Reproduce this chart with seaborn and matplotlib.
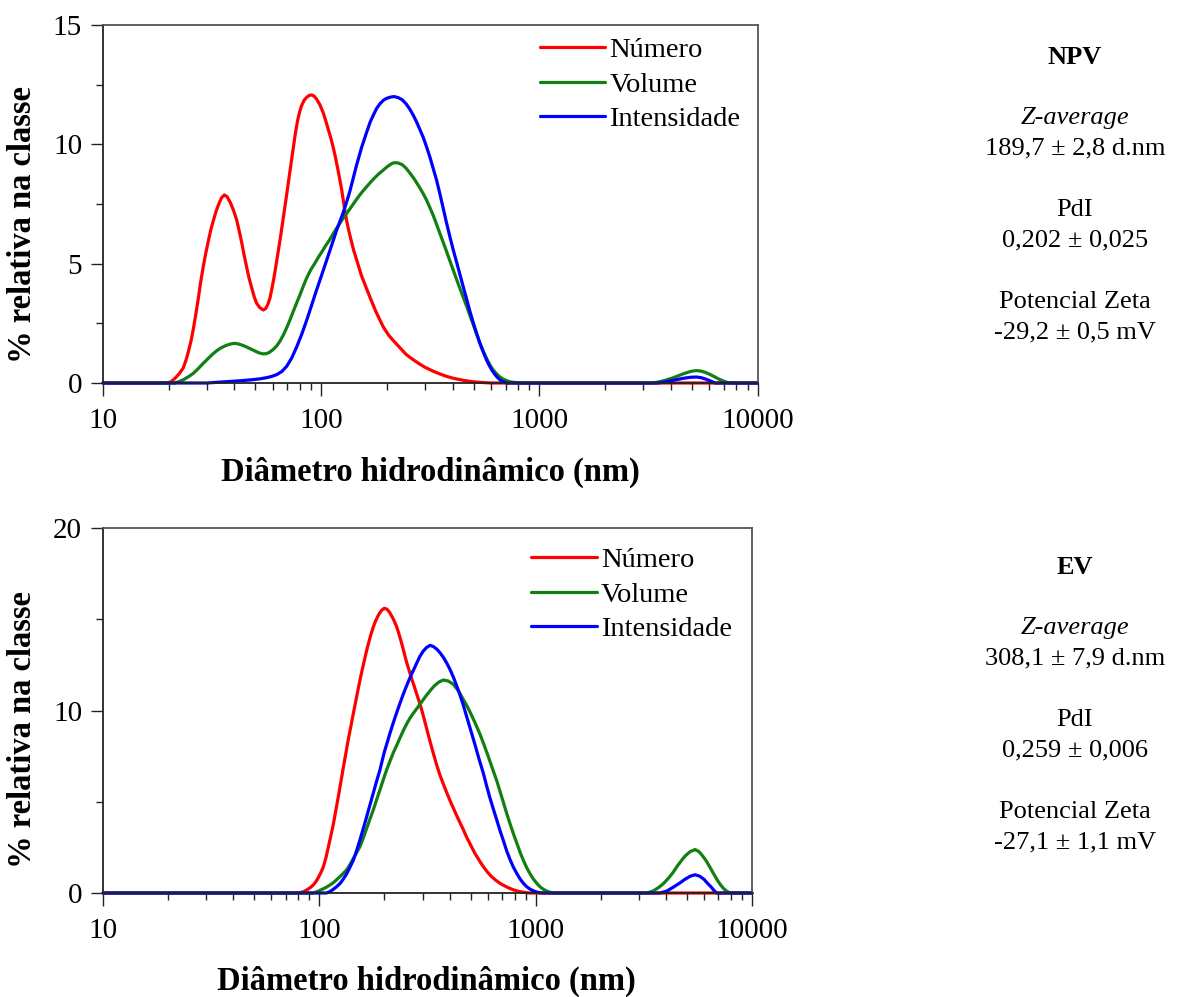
import matplotlib
matplotlib.use("Agg")
import matplotlib.pyplot as plt
import matplotlib.ticker as mticker
import seaborn as sns

# ---- NPV: size distributions (diameter in nm, % per class) ----
npv_num_d = [10, 19.5, 20.5, 21.4, 22.3, 23.3, 24.0, 24.6, 25.3, 25.9, 26.6, 27.3, 28.0, 28.8,
             29.6, 30.4, 31.2, 32.1, 33.0, 34.0, 35.0, 36.0, 37.1, 38.4, 39.7, 41.0, 42.1, 43.2,
             44.3, 45.5, 46.7, 48.0, 49.3, 50.6, 52.4, 54.3, 55.7, 57.0, 58.2, 59.3, 60.6, 62.0,
             63.4, 64.8, 67.0, 69.5, 72.0, 74.5, 76.3, 78.0, 79.6, 81.3, 83.6, 86.0, 88.2, 90.4,
             92.8, 95.5, 98.8, 102.4, 105, 108, 110.8, 113.7, 116.3, 119, 121.6, 124.2, 127.3,
             130.5, 133.7, 137, 141, 145.5, 153, 161.5, 169.5, 178, 185, 192.6, 204, 214, 230,
             245, 260, 280, 299, 325, 350, 375, 403, 450, 498, 550, 600, 10000]
npv_num_v = [0, 0, 0.05, 0.2, 0.38, 0.62, 0.95, 1.3, 1.75, 2.22, 2.85, 3.5, 4.2, 4.87,
             5.45, 5.95, 6.42, 6.83, 7.2, 7.52, 7.77, 7.88, 7.8, 7.55, 7.22, 6.83, 6.37, 5.9,
             5.38, 4.87, 4.4, 4.0, 3.62, 3.34, 3.15, 3.06, 3.12, 3.3, 3.55, 3.9, 4.35, 4.9,
             5.45, 6.0, 6.9, 7.9, 8.9, 9.85, 10.5, 11.0, 11.35, 11.62, 11.85, 11.98, 12.05, 12.07,
             12.02, 11.88, 11.65, 11.3, 10.98, 10.6, 10.25, 9.85, 9.45, 9.0, 8.55, 8.09, 7.45,
             6.85, 6.4, 6.0, 5.55, 5.15, 4.5, 3.95, 3.47, 3.0, 2.68, 2.35, 2.0, 1.78, 1.47,
             1.2, 1.02, 0.82, 0.66, 0.5, 0.38, 0.28, 0.2, 0.11, 0.05, 0.02, 0, 0]

npv_vol_d = [10, 21.4, 22.5, 23.5, 24.7, 25.9, 27.1, 28.3, 29.6, 30.9, 32.0, 33.2, 34.4, 35.6,
             36.8, 38, 39.1, 40.3, 41.6, 43, 44.2, 45.5, 47.7, 50, 52, 54.3, 56.2, 58, 60.2, 62.5,
             64.7, 67, 69.4, 71.9, 74.5, 77, 80, 83, 86, 89.7, 93.6, 96.8, 100, 104.8, 109.7,
             113.8, 118, 122, 126, 130.7, 135.5, 141.6, 148, 154.6, 161.5, 168.6, 176, 184,
             192.6, 198.7, 205, 210.5, 216, 225, 235, 245, 255, 267, 280, 292, 304, 315, 327,
             338, 350, 363, 376, 389, 403, 418, 433, 449, 465, 482, 500, 517, 535, 555, 575, 595,
             615, 637, 660, 684, 708, 734, 760, 790, 815, 3300, 3550, 3800, 4050, 4300, 4550,
             4800, 5030, 5260, 5500, 5750, 6020, 6300, 6600, 6900, 7180, 7480, 10000]
npv_vol_v = [0, 0, 0.07, 0.15, 0.27, 0.4, 0.57, 0.75, 0.93, 1.1, 1.23, 1.35, 1.45, 1.52,
             1.58, 1.62, 1.65, 1.66, 1.64, 1.6, 1.56, 1.51, 1.42, 1.33, 1.26, 1.22, 1.23, 1.29,
             1.4, 1.55, 1.75, 2.0, 2.3, 2.64, 3.0, 3.33, 3.7, 4.08, 4.42, 4.75, 5.02, 5.25, 5.45,
             5.75, 6.02, 6.27, 6.5, 6.7, 6.9, 7.1, 7.3, 7.55, 7.8, 8.02, 8.22, 8.42, 8.6, 8.77,
             8.92, 9.03, 9.12, 9.19, 9.23, 9.22, 9.15, 9.0, 8.8, 8.55, 8.25, 7.97, 7.67, 7.35,
             7.0, 6.65, 6.27, 5.88, 5.5, 5.12, 4.73, 4.33, 3.95, 3.57, 3.2, 2.8, 2.4, 2.02, 1.66,
             1.3, 1.0, 0.74, 0.54, 0.38, 0.25, 0.16, 0.1, 0.05, 0.03, 0.01, 0, 0, 0.05, 0.12,
             0.2, 0.29, 0.38, 0.45, 0.5, 0.52, 0.5, 0.45, 0.37, 0.28, 0.18, 0.1, 0.04, 0, 0]

npv_int_d = [10, 30, 36, 42, 47.5, 52, 56, 59, 62.5, 66, 69.5, 73.3, 77.3, 81.5, 85.9, 90.5,
             95.3, 100.6, 106, 111.8, 117.8, 122, 126, 131, 135.5, 140, 145, 153, 161.5, 168,
             175, 180, 186, 193, 200, 208, 216, 225, 235, 245, 255, 265, 275, 284, 294, 304, 315,
             326, 338, 350, 362, 375, 389, 403, 418, 433, 448, 464, 480, 498, 516, 530, 545, 559,
             573, 589, 605, 621, 637, 653, 670, 690, 708, 3480, 3750, 4000, 4300, 4600, 4930,
             5260, 5530, 5800, 6100, 6380, 10000]
npv_int_v = [0, 0, 0.05, 0.09, 0.13, 0.17, 0.22, 0.27, 0.35, 0.48, 0.7, 1.05, 1.52, 2.05,
             2.64, 3.27, 3.9, 4.53, 5.15, 5.78, 6.41, 6.78, 7.12, 7.6, 8.05, 8.55, 9.1, 9.85,
             10.5, 10.95, 11.3, 11.52, 11.7, 11.85, 11.93, 11.98, 12.0, 11.96, 11.87, 11.7,
             11.47, 11.2, 10.9, 10.6, 10.28, 9.9, 9.47, 9.0, 8.5, 7.93, 7.35, 6.73, 6.13, 5.58,
             5.05, 4.53, 4.03, 3.52, 3.02, 2.52, 2.08, 1.75, 1.45, 1.2, 0.96, 0.74, 0.55, 0.4,
             0.27, 0.17, 0.09, 0.04, 0, 0, 0.04, 0.09, 0.15, 0.2, 0.24, 0.25, 0.22, 0.16, 0.08,
             0, 0]

# ---- EV: size distributions ----
ev_num_d = [10, 80, 84, 87, 90.5, 93.8, 96.5, 99, 101.7, 104.4, 107.2, 110, 113, 116.2, 119.3,
            122.5, 125.8, 129.2, 132.6, 136, 139.8, 143.6, 147.3, 151, 155.3, 159.7, 163.8, 168,
            172.7, 177.6, 182.7, 188, 193.6, 199.5, 205.6, 212, 219.6, 227.6, 233.7, 240, 246.5,
            253, 260, 267, 274.5, 282, 289.5, 297, 305, 313.5, 325, 336.5, 348, 360, 374, 388,
            404, 420, 435, 450, 465, 480, 502, 525, 549, 573, 598, 625, 654, 684, 716, 750, 783,
            817, 850, 880, 910, 940, 10000]
ev_num_v = [0, 0, 0.06, 0.15, 0.28, 0.44, 0.63, 0.85, 1.12, 1.44, 1.92, 2.5, 3.13, 3.8, 4.55,
            5.3, 6.1, 6.9, 7.65, 8.4, 9.12, 9.83, 10.5, 11.15, 11.85, 12.5, 13.07, 13.6, 14.12,
            14.58, 14.95, 15.25, 15.48, 15.6, 15.55, 15.35, 15.02, 14.6, 14.17, 13.7, 13.17,
            12.65, 12.2, 11.75, 11.33, 10.9, 10.48, 10.05, 9.55, 9.0, 8.3, 7.65, 7.05, 6.5,
            5.98, 5.5, 5.0, 4.55, 4.15, 3.78, 3.42, 3.05, 2.6, 2.15, 1.78, 1.44, 1.15, 0.9, 0.7,
            0.53, 0.4, 0.28, 0.19, 0.12, 0.07, 0.04, 0.015, 0, 0]

ev_vol_d = [10, 93.8, 98, 103, 107.5, 112, 117, 122, 127.7, 133.6, 138, 143, 148.5, 154, 159.5,
            165, 171, 177.6, 183.6, 190, 197, 204.6, 212, 220, 228, 236, 244, 253, 262, 272,
            282, 292, 302.5, 313.5, 326, 340, 356, 374, 394, 415, 438, 463, 484, 505, 528, 553,
            578, 605, 632, 661, 685, 710, 735, 762, 790, 820, 848, 878, 908, 940, 975, 1012,
            1050, 1090, 1127, 1166, 1210, 3260, 3480, 3700, 3900, 4100, 4300, 4500, 4700, 4900,
            5180, 5460, 5680, 5900, 6150, 6400, 6650, 6900, 7150, 7400, 7650, 7920, 10000]
ev_vol_v = [0, 0, 0.08, 0.2, 0.31, 0.44, 0.6, 0.8, 1.02, 1.26, 1.52, 1.85, 2.2, 2.54, 3.0,
            3.5, 4.02, 4.55, 5.08, 5.6, 6.17, 6.74, 7.22, 7.7, 8.1, 8.5, 8.88, 9.25, 9.57, 9.85,
            10.1, 10.35, 10.6, 10.85, 11.1, 11.35, 11.55, 11.67, 11.62, 11.45, 11.1, 10.6, 10.2,
            9.75, 9.25, 8.7, 8.1, 7.45, 6.8, 6.15, 5.55, 4.95, 4.35, 3.78, 3.23, 2.7, 2.22, 1.78,
            1.4, 1.07, 0.77, 0.53, 0.33, 0.19, 0.1, 0.04, 0, 0, 0.1, 0.3, 0.52, 0.8, 1.1, 1.45,
            1.75, 2.02, 2.27, 2.38, 2.27, 2.05, 1.75, 1.4, 1.05, 0.72, 0.45, 0.24, 0.09, 0, 0]

ev_int_d = [10, 108, 112, 116, 120.3, 124.8, 128.8, 133, 138, 143.6, 148.7, 154, 159.6, 165.5,
            171.6, 178, 184.2, 190.6, 195.2, 200, 206, 212, 220, 228, 236, 244.5, 253, 262, 272,
            282, 292, 302, 313, 325, 337, 350, 362, 375, 388, 402, 420, 440, 460, 480, 502, 525,
            548, 573, 593, 615, 638, 661, 685, 710, 735, 762, 790, 820, 848, 878, 908, 940, 975,
            1012, 1060, 3760, 4030, 4300, 4600, 4900, 5180, 5460, 5730, 6000, 6230, 6450, 6660,
            6870, 10000]
ev_int_v = [0, 0, 0.08, 0.2, 0.35, 0.53, 0.75, 1.0, 1.37, 1.8, 2.32, 2.9, 3.53, 4.18, 4.85,
            5.52, 6.15, 6.74, 7.25, 7.75, 8.25, 8.75, 9.35, 9.9, 10.4, 10.9, 11.35, 11.78, 12.2,
            12.6, 12.98, 13.25, 13.45, 13.57, 13.5, 13.35, 13.15, 12.9, 12.6, 12.25, 11.72,
            11.08, 10.4, 9.66, 8.88, 8.1, 7.32, 6.56, 5.88, 5.2, 4.58, 4.0, 3.4, 2.85, 2.3, 1.82,
            1.4, 1.05, 0.76, 0.53, 0.35, 0.22, 0.12, 0.05, 0, 0, 0.1, 0.3, 0.52, 0.75, 0.92,
            1.0, 0.92, 0.75, 0.53, 0.35, 0.15, 0, 0]

series_names = ["Número", "Volume", "Intensidade"]
series_colors = ["#ff0000", "#118011", "#0000ff"]

x_ticks = [10, 100, 1000, 10000]
x_ticklabels = ["10", "100", "1000", "10000"]

npv_info = ["NPV", "Z-average", "189,7 ± 2,8 d.nm", "PdI", "0,202 ± 0,025",
            "Potencial Zeta", "-29,2 ± 0,5 mV"]
ev_info = ["EV", "Z-average", "308,1 ± 7,9 d.nm", "PdI", "0,259 ± 0,006",
           "Potencial Zeta", "-27,1 ± 1,1 mV"]

sns.set_style("ticks")
plt.rcParams["font.family"] = ["Liberation Serif", "DejaVu Serif"]
plt.rcParams["text.color"] = "black"
plt.rcParams["axes.labelcolor"] = "black"
plt.rcParams["xtick.color"] = "#222222"
plt.rcParams["ytick.color"] = "#222222"
plt.rcParams["xtick.labelcolor"] = "black"
plt.rcParams["ytick.labelcolor"] = "black"

W, H = 1178, 997
fig = plt.figure(figsize=(W / 100, H / 100), dpi=100)


def px_rect(left, top, right, bottom):
    return [left / W, 1 - bottom / H, (right - left) / W, (bottom - top) / H]


ax_top = fig.add_axes(px_rect(103, 25, 757.5, 383))
ax_bot = fig.add_axes(px_rect(103, 528, 752, 893))

panels = [
    (ax_top, [(npv_num_d, npv_num_v), (npv_vol_d, npv_vol_v), (npv_int_d, npv_int_v)],
     15, [0, 5, 10, 15], [2.5, 7.5, 12.5], (-0.123, 0.444), (0.5, -0.25), (0.667, 0.965)),
    (ax_bot, [(ev_num_d, ev_num_v), (ev_vol_d, ev_vol_v), (ev_int_d, ev_int_v)],
     20, [0, 10, 20], [5, 15], (-0.124, 0.449), (0.499, -0.243), (0.660, 0.947)),
]

for ax, data, ymax, yt, ymin_t, ylab_xy, xlab_xy, leg_xy in panels:
    for (d, v), name, col in zip(data, series_names, series_colors):
        sns.lineplot(x=d, y=v, ax=ax, color=col, linewidth=2.3, label=name,
                     sort=False, clip_on=False, solid_joinstyle="round",
                     solid_capstyle="round")
    ax.set_xscale("log")
    ax.set_xlim(10, 10000)
    ax.set_ylim(0, ymax)
    ax.xaxis.set_major_locator(mticker.FixedLocator(x_ticks))
    ax.xaxis.set_major_formatter(mticker.FixedFormatter(x_ticklabels))
    ax.xaxis.set_minor_locator(mticker.LogLocator(base=10, subs=range(2, 10), numticks=20))
    ax.xaxis.set_minor_formatter(mticker.NullFormatter())
    ax.yaxis.set_major_locator(mticker.FixedLocator(yt))
    ax.yaxis.set_minor_locator(mticker.FixedLocator(ymin_t))
    ax.tick_params(which="major", direction="out", length=9, width=1.0, labelsize=21,
                   top=False, right=False)
    ax.tick_params(which="minor", direction="out", length=5, width=1.0,
                   top=False, right=False)
    ax.tick_params(axis="x", which="major", pad=9)
    ax.tick_params(axis="y", which="major", pad=6)
    for side in ["left", "bottom"]:
        ax.spines[side].set_color("#222222")
        ax.spines[side].set_linewidth(1.3)
    for side in ["top", "right"]:
        ax.spines[side].set_color("#555555")
        ax.spines[side].set_linewidth(1.3)
    ax.set_ylabel("% relativa na classe", fontsize=23.5, fontweight="bold")
    ax.set_xlabel("Diâmetro hidrodinâmico (nm)", fontsize=23.5, fontweight="bold")
    ax.yaxis.label.set_verticalalignment("center")
    ax.xaxis.label.set_verticalalignment("center")
    ax.yaxis.set_label_coords(*ylab_xy)
    ax.xaxis.set_label_coords(*xlab_xy)
    leg = ax.legend(loc="upper left", bbox_to_anchor=leg_xy, frameon=False,
                    fontsize=20.5, handlelength=2.3, handletextpad=0.15, labelspacing=0.3,
                    borderpad=0, borderaxespad=0)
    for line in leg.get_lines():
        line.set_linewidth(2.3)

# summary text blocks beside each panel
x_center = 1075 / W
for info, ys in [(npv_info, [57, 118, 148, 210, 240, 302, 332]),
                 (ev_info, [567, 628, 658, 720, 750, 812, 842])]:
    for i, (txt, y) in enumerate(zip(info, ys)):
        kw = dict(ha="center", va="center", fontsize=19)
        if i == 0:
            kw["fontweight"] = "bold"
        if i == 1:
            kw["fontstyle"] = "italic"
        fig.text(x_center, 1 - y / H, txt, **kw)

fig.savefig("out.png", dpi=100, facecolor="white")
